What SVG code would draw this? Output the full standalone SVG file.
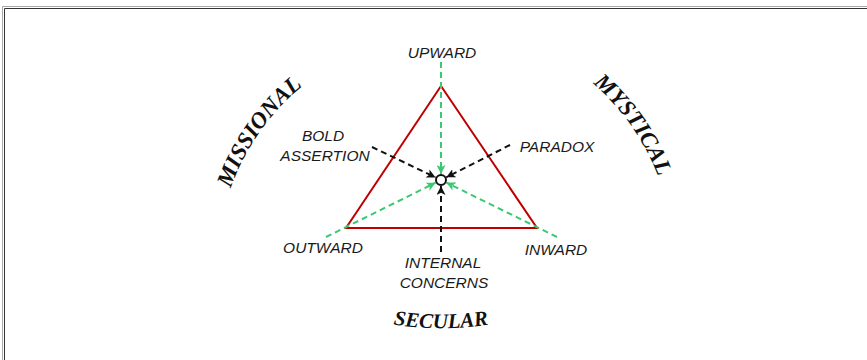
<svg xmlns="http://www.w3.org/2000/svg" xmlns:xlink="http://www.w3.org/1999/xlink" width="867" height="360" viewBox="0 0 867 360">
<style>
.lbl{font-family:"Liberation Sans",Arial,sans-serif;font-style:italic;font-size:15.5px;fill:#1a1a1a;text-anchor:middle}
.big{font-family:"Liberation Serif","Times New Roman",serif;font-style:italic;font-weight:bold;font-size:23px;fill:#111}
.g{stroke:#3cc873;stroke-width:2;stroke-dasharray:6 4;fill:none}
.k{stroke:#111;stroke-width:2;stroke-dasharray:6 4;fill:none}
</style>
<defs>
<marker id="ag" viewBox="0 0 10 10" refX="10" refY="5" markerWidth="9" markerHeight="9" markerUnits="userSpaceOnUse" orient="auto"><path d="M0,0 L10,5 L0,10 L2.5,5 Z" fill="#3cc873"/></marker>
<marker id="ak" viewBox="0 0 10 10" refX="10" refY="5" markerWidth="9" markerHeight="9" markerUnits="userSpaceOnUse" orient="auto"><path d="M0,0 L10,5 L0,10 L2.5,5 Z" fill="#111"/></marker>
<path id="pMis" d="M 232 185 A 229 229 0 0 1 300 88"/>
<path id="pMys" d="M 591 82 A 229 229 0 0 1 659 179"/>
<path id="pSec" d="M 371 320 A 300 300 0 0 0 511 320"/>
</defs>
<rect x="0" y="0" width="867" height="360" fill="#fff"/>
<g id="frame" fill="none">
<path d="M2.5 360 V6.5 H867" stroke="#a8a8a8" stroke-width="1"/>
<path d="M4.5 360 V8.5 H867" stroke="#333" stroke-width="1"/>
</g>
<g id="triangle"><polygon points="441,86 346,228 537,228" fill="none" stroke="#c00000" stroke-width="2"/></g>
<g id="connectors">
<line class="g" x1="441" y1="62" x2="441" y2="174" marker-end="url(#ag)"/>
<line class="g" x1="326" y1="237" x2="435.6" y2="182.7" marker-end="url(#ag)"/>
<line class="g" x1="557" y1="237" x2="446.4" y2="182.6" marker-end="url(#ag)"/>
<line class="k" x1="372" y1="147" x2="435.6" y2="177.4" marker-end="url(#ak)"/>
<line class="k" x1="510" y1="145" x2="446.3" y2="177.3" marker-end="url(#ak)"/>
<line class="k" x1="441" y1="252" x2="441" y2="186" marker-end="url(#ak)"/>
</g>
<g id="center"><circle cx="441" cy="180" r="5" fill="#fff" stroke="#111" stroke-width="2"/></g>
<g id="upward"><text class="lbl" x="442" y="58">UPWARD</text></g>
<g id="bold-assertion"><text class="lbl" x="323" y="141">BOLD</text><text class="lbl" x="325" y="161">ASSERTION</text></g>
<g id="paradox"><text class="lbl" x="557" y="152">PARADOX</text></g>
<g id="outward"><text class="lbl" x="323" y="253">OUTWARD</text></g>
<g id="inward"><text class="lbl" x="556" y="255">INWARD</text></g>
<g id="internal-concerns"><text class="lbl" x="443" y="268">INTERNAL</text><text class="lbl" x="444" y="288">CONCERNS</text></g>
<g id="missional"><text class="big"><textPath xlink:href="#pMis" href="#pMis" startOffset="50%" text-anchor="middle">MISSIONAL</textPath></text></g>
<g id="mystical"><text class="big"><textPath xlink:href="#pMys" href="#pMys" startOffset="50%" text-anchor="middle">MYSTICAL</textPath></text></g>
<g id="secular"><text class="big" style="font-size:21px"><textPath xlink:href="#pSec" href="#pSec" startOffset="50%" text-anchor="middle">SECULAR</textPath></text></g>
</svg>
